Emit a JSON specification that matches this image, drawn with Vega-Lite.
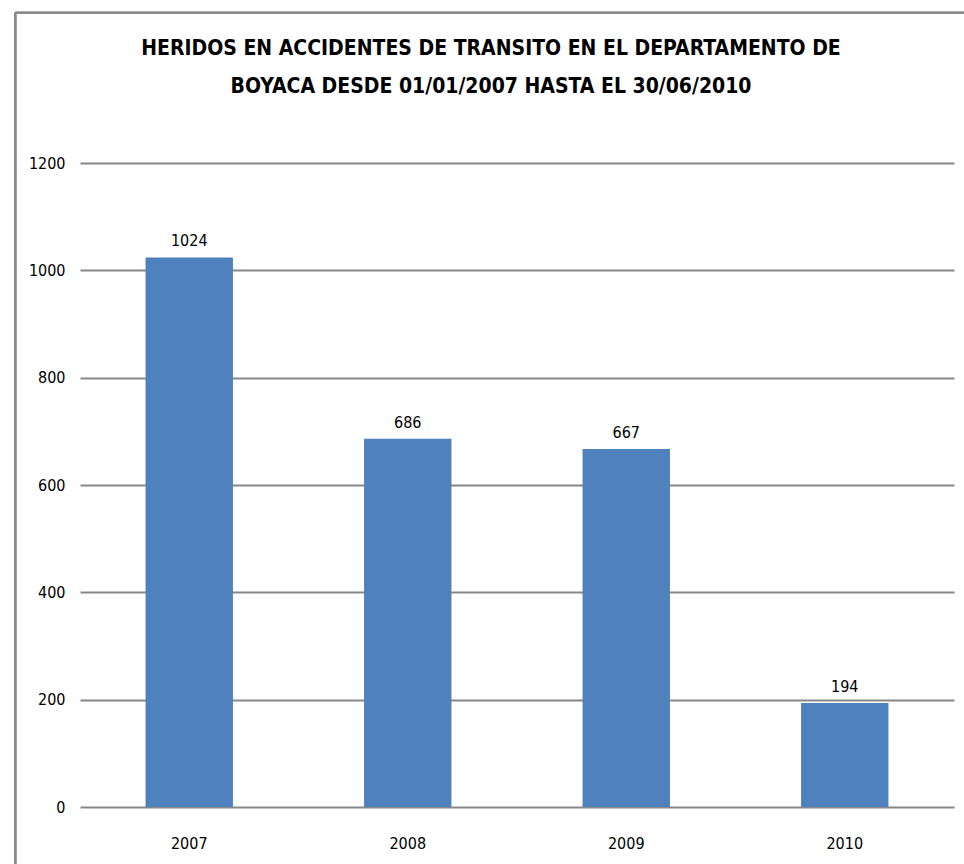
{
  "$schema": "https://vega.github.io/schema/vega-lite/v6.json",
  "width": 874,
  "height": 644,
  "autosize": {"type": "none"},
  "padding": {"left": 80, "top": 163, "right": 10, "bottom": 57},
  "background": "white",
  "title": {
    "text": ["HERIDOS EN ACCIDENTES DE TRANSITO EN EL DEPARTAMENTO DE", "BOYACA DESDE 01/01/2007  HASTA EL 30/06/2010"],
    "font": "DejaVu Sans Condensed, sans-serif",
    "fontSize": 21,
    "fontWeight": "bold",
    "color": "black",
    "lineHeight": 38,
    "anchor": "middle",
    "frame": "group",
    "dx": -26,
    "offset": -85
  },
  "data": {
    "values": [
      {"year": "2007", "heridos": 1024},
      {"year": "2008", "heridos": 686},
      {"year": "2009", "heridos": 667},
      {"year": "2010", "heridos": 194}
    ]
  },
  "encoding": {
    "x": {
      "field": "year",
      "type": "nominal",
      "sort": null,
      "scale": {"domain": ["2007", "2008", "2009", "2010"], "paddingInner": 0.6, "paddingOuter": 0.3},
      "axis": {
        "title": null,
        "labelAngle": 0,
        "domain": false,
        "ticks": false,
        "labelPadding": 28,
        "labelBaseline": "top",
        "labelFont": "DejaVu Sans Condensed, sans-serif",
        "labelFontSize": 16,
        "labelColor": "black"
      }
    },
    "y": {
      "field": "heridos",
      "type": "quantitative",
      "scale": {"domain": [0, 1200], "nice": false, "zero": true},
      "axis": {
        "title": null,
        "values": [0, 200, 400, 600, 800, 1000, 1200],
        "format": "d",
        "domain": false,
        "ticks": false,
        "grid": true,
        "gridColor": "#878787",
        "gridWidth": 2,
        "gridOpacity": 1,
        "labelPadding": 15,
        "labelFont": "DejaVu Sans Condensed, sans-serif",
        "labelFontSize": 16,
        "labelColor": "black"
      }
    }
  },
  "layer": [
    {
      "mark": {"type": "rule", "stroke": "#8a8a8a", "strokeWidth": 2, "clip": false},
      "encoding": {
        "x": {"datum": "2007", "bandPosition": -1.49},
        "y": {"datum": 1480},
        "y2": {"datum": -300}
      }
    },
    {
      "mark": {"type": "rule", "stroke": "#8a8a8a", "strokeWidth": 2, "clip": false},
      "encoding": {
        "y": {"datum": 1480},
        "x": {"datum": "2007", "bandPosition": -1.49},
        "x2": {"datum": "2010", "bandPosition": 3}
      }
    },
    {
      "mark": {"type": "bar", "color": "#4F81BD"}
    },
    {
      "mark": {"type": "text", "font": "DejaVu Sans Condensed, sans-serif", "fontSize": 16, "color": "black", "baseline": "middle", "dy": -16},
      "encoding": {"text": {"field": "heridos", "type": "quantitative"}}
    }
  ],
  "config": {"view": {"stroke": null}}
}
